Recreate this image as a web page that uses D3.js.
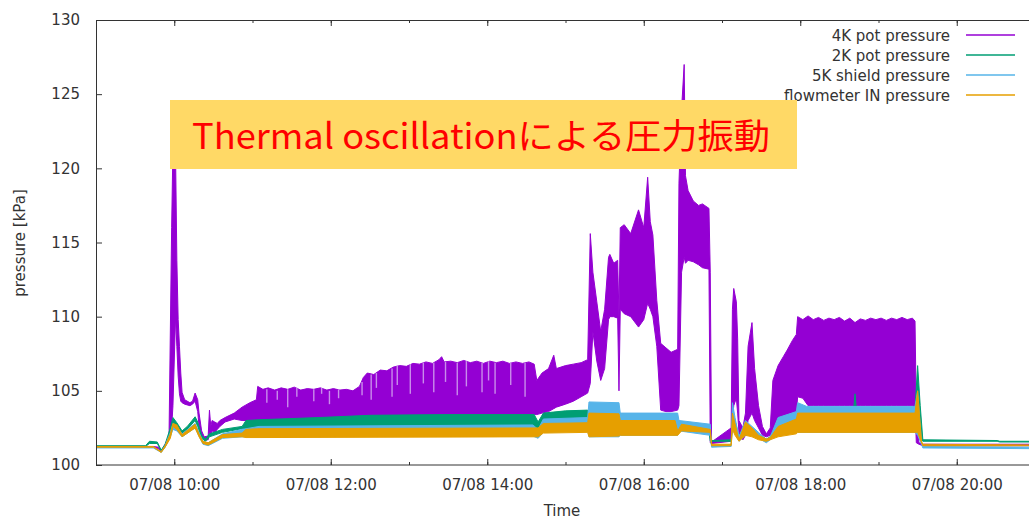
<!DOCTYPE html>
<html>
<head>
<meta charset="utf-8">
<script src="https://cdn.jsdelivr.net/npm/d3@7"></script>
<style>
  body { margin: 0; background: #fff; }
  svg text { font-family: "DejaVu Sans", sans-serif; fill: #333; }
</style>
</head>
<body>
<svg width="1029" height="521"></svg>
<script>
// [time, low, high] envelopes (kPa)
const pot4K = [
  ["09:00",101.2,101.25],["09:44",101.2,101.25],["09:48",101.1,101.2],["09:50",100.9,100.95],
  ["09:53",101.3,101.4],["09:56",101.8,102.0],["09:58",102.5,116.0],["09:59",104.0,121.5],
  ["10:01",110.0,121.0],["10:02",108.0,113.8],["10:03",106.0,109.8],["10:04",104.8,108.0],
  ["10:05",104.3,106.2],["10:06",104.2,104.9],["10:08",104.1,104.4],["10:12",104.0,104.2],
  ["10:14",104.1,104.3],["10:16",104.3,104.85],["10:18",103.6,104.4],["10:19",102.6,103.5],
  ["10:21",101.9,102.3],["10:23",101.7,101.9],["10:26",101.7,101.95],["10:27",102.2,103.7],
  ["10:28",102.0,102.6],["10:29",102.3,103.0],["10:31",102.2,102.9],["10:33",102.4,102.8],
  ["10:35",102.6,103.0],["10:39",102.9,103.2],["10:46",103.1,103.5],["10:52",103.0,103.9],
  ["10:58",103.0,104.2],["11:03",103.0,104.4],["11:04",103.0,105.3],["11:08",103.0,105.1],
  ["11:12",103.0,105.2],["11:17",103.0,105.05],["11:22",103.0,105.2],["11:27",103.0,105.1],
  ["11:32",103.1,105.25],["11:37",103.1,105.05],["11:42",103.1,105.15],["11:47",103.1,105.1],
  ["11:52",103.1,105.2],["11:57",103.1,105.05],["12:02",103.1,105.15],["12:07",103.2,105.05],
  ["12:12",103.2,105.1],["12:17",103.2,105.0],["12:22",103.2,105.3],["12:25",103.2,105.9],
  ["12:28",103.2,106.2],["12:33",103.2,106.1],["12:38",103.2,106.4],["12:43",103.3,106.35],
  ["12:48",103.3,106.6],["12:53",103.3,106.7],["12:58",103.3,106.65],["13:03",103.3,106.85],
  ["13:08",103.3,106.8],["13:13",103.3,106.95],["13:18",103.3,106.85],["13:23",103.3,107.1],
  ["13:25",103.3,107.3],["13:27",103.3,106.95],["13:32",103.3,107.0],["13:37",103.3,106.9],
  ["13:42",103.3,107.05],["13:47",103.3,106.9],["13:52",103.3,107.0],["13:57",103.3,106.85],
  ["14:02",103.3,107.0],["14:07",103.3,106.9],["14:12",103.3,107.0],["14:17",103.3,106.85],
  ["14:22",103.4,106.95],["14:27",103.4,106.85],["14:32",103.4,106.95],["14:36",103.4,106.8],
  ["14:38",103.4,105.7],["14:42",103.5,106.2],["14:47",103.6,106.5],
  ["14:51",103.8,107.4],["14:53",103.9,106.5],["15:00",104.1,106.7],["15:06",104.3,106.8],
  ["15:12",104.6,106.9],["15:17",104.85,107.1],["15:19",105.5,115.6],["15:21",109.0,113.0],
  ["15:24",107.0,111.0],["15:27",105.7,109.0],["15:30",106.5,110.5],["15:33",109.8,114.0],
  ["15:34",110.0,114.2],["15:37",110.0,113.6],["15:40",109.9,113.8],["15:41",105.0,110.0],
  ["15:42",110.5,116.0],["15:45",110.2,116.2],["15:50",110.0,115.6],["15:56",109.3,117.2],
  ["16:00",109.8,116.0],["16:03",110.9,119.4],["16:05",110.5,116.4],["16:07",110.0,115.5],
  ["16:10",108.0,111.1],["16:13",103.7,108.2],["16:17",103.6,107.9],["16:21",103.6,107.6],
  ["16:26",103.7,107.8],["16:27",104.0,119.0],["16:29",113.0,124.0],["16:31",114.0,127.0],
  ["16:32",113.6,119.5],["16:34",113.8,118.5],["16:38",113.7,117.8],["16:42",113.5,117.5],
  ["16:45",113.3,117.6],["16:50",113.2,117.3],["16:51",101.5,113.0],["16:52",101.45,101.55],
  ["17:07",101.6,102.5],["17:08",103.0,110.5],["17:09",104.0,111.9],["17:11",104.5,111.0],
  ["17:12",103.5,108.5],["17:13",102.2,103.0],["17:16",101.7,102.5],["17:18",102.0,103.5],
  ["17:20",103.0,108.0],["17:23",103.5,109.6],["17:25",103.0,106.5],["17:28",102.5,104.0],
  ["17:31",102.0,102.6],["17:34",101.9,102.1],["17:37",102.0,102.5],["17:39",102.3,105.7],
  ["17:43",102.5,106.7],["17:47",102.7,107.3],["17:50",103.0,107.75],["17:54",103.3,108.4],
  ["17:57",103.5,108.8],["17:58",104.6,110.0],["18:02",104.5,109.8],["18:06",104.0,110.05],
  ["18:10",104.0,109.8],["18:14",104.0,109.95],["18:18",104.0,109.75],["18:22",104.0,109.9],
  ["18:26",104.0,109.8],["18:30",104.0,109.95],["18:34",104.0,109.7],["18:38",104.0,109.9],
  ["18:42",104.0,109.6],["18:46",104.0,109.85],["18:50",104.0,109.75],["18:54",104.0,109.9],
  ["18:58",104.0,109.8],["19:02",104.0,109.9],["19:06",104.0,109.75],["19:10",104.0,109.9],
  ["19:14",104.0,109.8],["19:18",104.0,109.95],["19:22",104.0,109.8],["19:26",104.0,109.9],
  ["19:28",103.8,109.7],["19:29",101.5,103.5],["19:31",101.4,101.5],["19:34",101.3,101.4],
  ["21:00",101.3,101.4]
];

// lighter streaks inside the 4K band: [time, top, bottom]
const streaks4K = [
  ["11:11",105.1,104.2],["11:19",105.0,104.4],["11:27",105.1,103.9],["11:34",105.2,104.6],
  ["11:47",105.1,104.3],["11:53",105.2,104.8],["11:59",105.0,104.1],["12:06",105.1,104.5],
  ["12:24",105.6,104.7],["12:31",106.1,104.4],["12:35",106.2,105.2],["12:47",106.5,104.6],
  ["12:51",106.7,105.4],["13:01",106.8,104.8],["13:11",106.9,105.5],["13:19",106.9,104.9],
  ["13:28",106.95,105.6],["13:37",106.9,104.7],["13:44",107.0,105.3],["13:56",106.9,104.9],
  ["14:01",107.0,105.7],["14:06",106.9,104.8],["14:18",106.9,105.4],["14:29",106.9,104.6]
];

const pot2K = [
  ["09:00",101.25,101.3],["09:38",101.25,101.3],["09:41",101.45,101.6],["09:47",101.45,101.55],
  ["09:50",100.95,101.0],["09:53",101.3,101.4],["09:57",102.2,102.5],["09:59",102.9,103.2],
  ["10:02",102.6,102.85],["10:06",102.1,102.3],["10:10",102.4,102.6],["10:16",103.0,103.25],
  ["10:18",102.6,102.9],["10:21",101.8,102.0],["10:24",101.6,101.75],["10:27",101.9,102.1],
  ["10:37",102.2,102.4],["10:52",102.45,102.6],["10:55",102.45,103.0],["11:05",102.5,103.05],
  ["11:51",102.55,103.2],["12:30",102.6,103.35],["13:30",102.6,103.4],["14:36",102.6,103.4],
  ["14:39",102.4,102.9],["14:43",102.9,103.5],["15:00",103.0,103.65],["15:17",103.0,103.7],
  ["15:18",102.3,103.6],["15:41",102.3,103.4],["15:42",102.3,103.0],["16:26",102.3,102.9],
  ["16:29",102.5,102.9],["16:50",102.3,102.6],["16:51",101.6,102.0],["16:52",101.6,101.65],
  ["17:07",101.6,101.7],["17:08",102.6,103.6],["17:10",102.2,103.0],["17:13",101.7,101.9],
  ["17:18",102.0,102.9],["17:23",102.1,102.5],["17:28",101.8,102.1],["17:34",101.6,101.75],
  ["17:37",101.75,101.9],["17:43",102.3,103.1],["17:57",102.8,103.5],["17:58",103.0,103.8],
  ["18:41",103.0,103.8],["18:42",103.0,104.8],["18:43",103.0,103.8],["19:28",103.0,103.8],
  ["19:30",103.5,106.7],["19:32",102.0,104.0],["19:34",101.6,101.7],["20:31",101.6,101.65],
  ["20:33",101.55,101.6],["21:00",101.55,101.6]
];

const shield5K = [
  ["09:00",101.15,101.2],["09:44",101.15,101.2],["09:50",100.85,100.9],["09:53",101.2,101.3],
  ["09:57",101.9,102.2],["09:59",102.4,102.8],["10:02",102.3,102.6],["10:06",101.9,102.1],
  ["10:16",102.5,102.8],["10:22",101.4,101.6],["10:26",101.3,101.5],["10:37",101.8,102.1],
  ["10:52",101.9,102.4],["11:05",101.9,102.6],["14:35",101.95,102.7],["14:39",101.8,102.4],
  ["14:43",102.2,103.1],["15:17",102.3,103.2],["15:18",101.9,104.25],["15:41",101.9,104.2],
  ["15:42",102.0,103.5],["16:26",102.0,103.5],["16:27",102.3,103.0],["16:51",102.0,102.75],
  ["16:52",101.2,101.3],["17:07",101.25,101.35],["17:08",102.5,104.2],["17:10",102.2,103.2],
  ["17:13",101.6,101.9],["17:18",102.0,103.0],["17:23",102.2,102.6],["17:28",101.8,102.2],
  ["17:34",101.5,101.7],["17:37",101.7,101.9],["17:43",102.2,103.2],["17:57",102.6,103.6],
  ["17:58",102.2,104.2],["18:05",102.2,103.95],["19:28",102.2,103.95],["19:30",102.0,105.0],
  ["19:33",101.4,101.5],["19:34",101.15,101.25],["21:00",101.1,101.2]
];

const flowIN = [
  ["09:00",101.2,101.25],["09:44",101.2,101.25],["09:50",100.85,100.9],["09:53",101.2,101.3],
  ["09:57",101.8,102.1],["09:59",102.6,102.8],["10:02",102.4,102.7],["10:06",101.9,102.05],
  ["10:16",102.5,102.75],["10:19",101.9,102.1],["10:22",101.45,101.6],["10:26",101.35,101.5],
  ["10:37",101.85,102.05],["10:52",101.9,102.15],["10:55",101.85,102.4],["11:05",101.85,102.45],
  ["14:39",101.9,102.5],["14:43",102.15,102.8],["15:17",102.2,102.85],["15:18",101.9,103.5],
  ["15:41",101.95,103.45],["15:42",102.0,103.0],["16:24",102.0,103.0],["16:26",102.0,102.3],
  ["16:29",102.3,102.75],["16:51",102.2,102.4],["16:52",101.3,101.4],["17:07",101.3,101.4],
  ["17:08",102.4,103.5],["17:10",102.0,102.8],["17:13",101.6,101.7],["17:18",102.0,102.9],
  ["17:23",101.9,102.5],["17:28",101.7,102.0],["17:34",101.6,101.75],["17:37",101.7,101.85],
  ["17:43",101.9,102.6],["17:57",102.1,103.1],["17:58",102.2,103.5],["19:28",102.2,103.5],
  ["19:30",102.2,105.0],["19:33",101.5,101.6],["19:34",101.3,101.4],["21:00",101.3,101.35]
];

const seriesNames = ["4K pot pressure", "2K pot pressure", "5K shield pressure", "flowmeter IN pressure"];
const seriesColors = ["#9400d3", "#009e73", "#56b4e9", "#e69f00"];
const yTicks = [100, 105, 110, 115, 120, 125, 130];
const note = "Thermal oscillationによる圧力振動";

const width = 1029, height = 521;
const parseTime = d3.timeParse("%Y-%m-%d %H:%M");
const t = s => parseTime("2014-07-08 " + s);

const x = d3.scaleTime().domain([t("09:00"), t("21:00")]).range([96, 1035]);
const y = d3.scaleLinear().domain([100, 130]).range([465, 20]);

const svg = d3.select("svg");

svg.append("clipPath").attr("id", "plot")
  .append("rect").attr("x", 96).attr("y", 20).attr("width", 939).attr("height", 445);

const band = d3.area()
  .x(d => x(t(d[0])))
  .y0(d => y(d[1]))
  .y1(d => y(d[2]));

const plot = svg.append("g").attr("clip-path", "url(#plot)");

[pot4K, pot2K, shield5K, flowIN].forEach((data, i) => {
  plot.append("path")
    .datum(data)
    .attr("d", band)
    .attr("fill", seriesColors[i])
    .attr("stroke", seriesColors[i])
    .attr("stroke-width", 1)
    .attr("stroke-linejoin", "round");

  // sparse parts of the 4K oscillation show up lighter
  if (i === 0) {
    plot.selectAll(".streak").data(streaks4K).join("line")
      .attr("class", "streak")
      .attr("x1", d => x(t(d[0]))).attr("x2", d => x(t(d[0])))
      .attr("y1", d => y(d[1])).attr("y2", d => y(d[2]))
      .attr("stroke", "#c98ceb")
      .attr("stroke-width", 1.4);
  }
});

// axes (ticks point inward, gnuplot style)
const styleAxis = g => {
  g.select(".domain").remove();
  g.selectAll("line").attr("stroke", "#333");
  g.selectAll("text").attr("font-size", 15).attr("font-family", "DejaVu Sans, sans-serif");
};

svg.append("g").attr("transform", "translate(0,465)")
  .call(d3.axisBottom(x).ticks(d3.timeHour.every(1)).tickSize(-3).tickFormat(""))
  .call(styleAxis);
svg.append("g").attr("transform", "translate(0,465)")
  .call(d3.axisBottom(x).ticks(d3.timeHour.every(2)).tickSize(-6).tickPadding(14)
    .tickFormat(d3.timeFormat("%m/%d %H:%M")))
  .call(styleAxis);
svg.append("g").attr("transform", "translate(0,20)")
  .call(d3.axisTop(x).ticks(d3.timeHour.every(1)).tickSize(-3).tickFormat(""))
  .call(styleAxis);
svg.append("g").attr("transform", "translate(0,20)")
  .call(d3.axisTop(x).ticks(d3.timeHour.every(2)).tickSize(-6).tickFormat(""))
  .call(styleAxis);
svg.append("g").attr("transform", "translate(96,0)")
  .call(d3.axisLeft(y).tickValues(yTicks).tickSize(-6).tickPadding(16))
  .call(styleAxis);

svg.append("rect")
  .attr("x", 96.5).attr("y", 20.5).attr("width", 939).attr("height", 444.5)
  .attr("fill", "none").attr("stroke", "#333").attr("stroke-width", 1);

svg.append("text")
  .attr("transform", "translate(25,243) rotate(-90)")
  .attr("text-anchor", "middle")
  .attr("font-size", 15)
  .text("pressure [kPa]");

svg.append("text")
  .attr("x", 562).attr("y", 516)
  .attr("text-anchor", "middle")
  .attr("font-size", 15)
  .text("Time");

// legend
const legend = svg.append("g").selectAll("g").data(seriesNames).join("g")
  .attr("transform", (d, i) => `translate(0,${35 + i * 20})`);
legend.append("text")
  .attr("x", 950).attr("y", 5.5)
  .attr("text-anchor", "end")
  .attr("font-size", 15)
  .text(d => d);
legend.append("line")
  .attr("x1", 966).attr("x2", 1015)
  .attr("stroke", (d, i) => seriesColors[i])
  .attr("stroke-width", 1.3);

// annotation
svg.append("rect")
  .attr("x", 170).attr("y", 100).attr("width", 627).attr("height", 69)
  .attr("fill", "#ffd966");
svg.append("text")
  .attr("x", 192).attr("y", 149)
  .attr("font-size", 35)
  .attr("textLength", 578)
  .attr("lengthAdjust", "spacingAndGlyphs")
  .style("font-family", "'Noto Sans CJK JP', 'Noto Sans', sans-serif")
  .style("fill", "#ff0000")
  .text(note);
</script>
</body>
</html>
